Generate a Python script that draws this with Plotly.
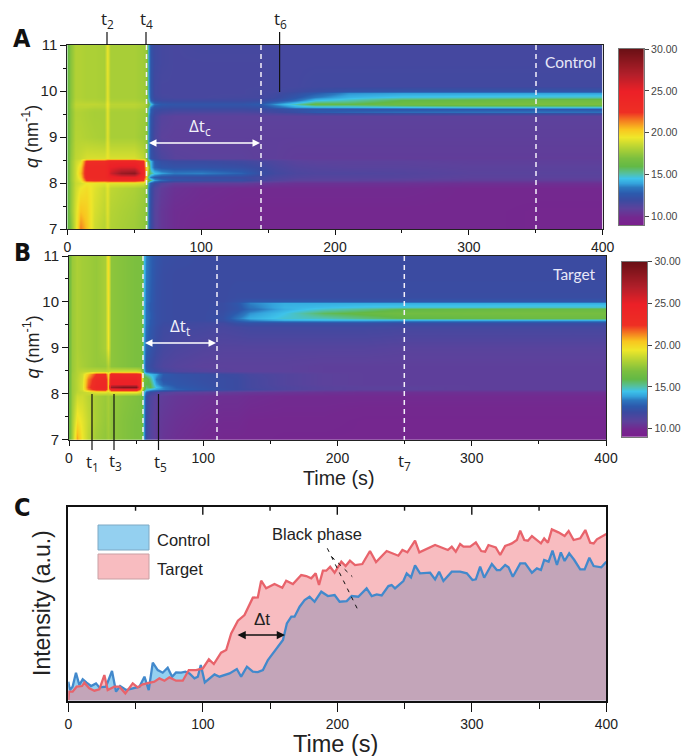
import numpy as np
import plotly.graph_objects as go

W, H = 684, 756

# ---------- colour scale ----------
Z_MIN, Z_MAX = 9.0, 30.0
color_levels = [9, 10, 11, 12, 12.8, 13.5, 14, 14.6, 15.2, 16, 17, 18.3, 19.5, 20.5, 21.5, 22.5, 25, 27, 30]
color_values = ["#7a1f8e", "#74288f", "#5c429c", "#3b4ba1", "#2c5aad", "#2c78bf", "#34a3dc", "#3ec3ea", "#55c0a0",
                "#63b946", "#7bbf3f", "#b5d334", "#efe72a", "#f9c51f", "#f47c20", "#ee2f24", "#ec2027", "#b21f2a", "#6b1015"]
bar_ticks = [10, 15, 20, 25, 30]
bar_tick_text = ["10.00", "15.00", "20.00", "25.00", "30.00"]

# ---------- panel A : Control ----------
time_a = [0, 2, 6, 10, 14, 20, 28, 30, 32, 40, 50, 57, 59, 60.5, 62, 65, 70, 80, 100, 130, 145, 155, 170, 185, 210, 250, 300, 350, 400]
q_a = [7, 7.4, 7.9, 8.0, 8.06, 8.12, 8.22, 8.35, 8.47, 8.55, 9.0, 9.45, 9.52, 9.55, 9.6, 9.66, 9.72, 9.8, 9.87, 9.95, 10.0, 10.1, 10.6, 11]
z_a = [
 [16,17,19,21.5,20.5,18.8,18.3,19,18.2,18,17.8,17.5,17.2,13.5,12.2,11.2,10.6,10.2,10,10,10,10,10,10,10,10,10,9.9,9.9],
 [16,17.5,19,20.5,20.2,19,18.5,19.2,18.3,18.1,17.9,17.6,17.3,13.5,12.2,11.2,10.6,10.2,10.1,10,10,10,10,10,10,10,10,9.9,9.9],
 [16,17.5,18.8,19.5,19.8,19.2,18.7,19.3,18.5,18.3,18.1,17.8,17.4,13.6,12.3,11.4,10.8,10.4,10.2,10.1,10.1,10.1,10.1,10.1,10.1,10.1,10,10,10],
 [16,17.5,18.7,19,19.5,19.4,19.2,19.6,19.2,19.2,19.2,19,18,14,12.8,12,11.3,10.8,10.8,10.8,10.6,10.5,10.4,10.4,10.4,10.4,10.3,10.3,10.3],
 [16,17.6,18.8,19.4,22.5,23,23,23,23.5,23.5,23.5,22.5,18.5,17,15.5,14,13.2,12.5,12.3,12.2,11.6,11.3,11,11,11,10.9,10.8,10.8,10.8],
 [16,17.6,18.8,20,23.5,23.5,23.5,24,24.5,25,25,23.5,20,15,13.5,12.8,12.4,12.2,12.1,12,11.7,11.5,11.3,11.2,11.2,11.2,11,11,11],
 [16,17.6,18.8,20.5,23.5,23.5,23.5,24,26,28,28.5,24,20,17,15.5,14.6,14,13.5,13.6,13,12.2,11.8,11.5,11.4,11.4,11.3,11.1,11.1,11.1],
 [16,17.6,18.8,20,23.5,23.5,23.5,24,25,25.5,25.5,23.5,19.5,18,14.5,13,12.6,12.4,12.4,12.2,11.9,11.6,11.3,11.2,11.1,11.1,11,11,11],
 [16,17.6,18.7,19.2,22.8,23,23,23.5,24,24,24,23,18.5,16,14.5,12.8,12.2,12,12,11.8,11.6,11.4,11.1,11,11,11,10.9,10.9,10.9],
 [16,17.5,18.5,18.7,19,19,19,19.4,19,19,19,18.5,17.5,14,12.5,12,11.5,11.1,11,11,10.9,10.9,10.8,10.8,10.8,10.8,10.8,10.8,10.8],
 [16,17.3,18.3,18.3,18.2,18.1,18,19.2,18,18,18,17.7,17.5,14,12.5,11.6,11,10.9,10.9,10.9,10.9,10.9,10.9,10.9,10.9,10.9,10.9,10.9,10.9],
 [16,17.3,18.2,18.2,18.1,18,18,19.3,18,18,18,17.8,17.6,14.2,12.6,11.8,11.2,11,11,11,11,11,11,11,11,11,11,11,11],
 [16,17.3,18.2,18.2,18.1,18,18,19.3,18,18,18,17.8,17.6,14.5,12.8,12,11.6,11.4,11.3,11.3,11.4,11.5,11.7,11.9,12,12.1,12.2,12.2,12.2],
 [16,17.3,18.2,18.2,18.1,18,18,19.3,18,18,18,17.8,17.6,14.6,12.9,12,11.7,11.5,11.5,11.5,11.6,11.8,12.2,12.8,13,13.2,13.3,13.4,13.3],
 [16,17.3,18.3,18.3,18.2,18.1,18.1,19.3,18.1,18.1,18.1,17.9,17.6,14.8,13,12.2,12,11.9,11.9,11.9,12,12.1,12.4,12.6,12.6,12.6,12.7,12.7,12.7],
 [16,17.4,18.4,18.4,18.4,18.3,18.3,19.4,18.3,18.3,18.3,18.1,17.8,15.5,13.5,12.5,12.3,12.2,12.2,12.2,12.3,13,14,14.3,14.4,14.6,14.8,14.8,14.8],
 [16,17.4,18.5,18.5,18.5,18.5,18.4,19.5,18.4,18.4,18.4,18.2,18,16.5,14.8,13.2,12.7,12.5,12.5,12.5,12.8,13.8,15,16.2,16,16.5,16.8,17,17],
 [16,17.3,18.3,18.3,18.2,18.2,18.1,19.3,18.1,18.1,18.1,17.9,17.6,15,13,12.1,11.9,11.9,11.9,11.9,12,12.3,13.2,14.5,15,16,16.2,16.5,16.5],
 [16,17.3,18.2,18.2,18.1,18.1,18,19.3,18,18,18,17.8,17.6,14.5,12.7,11.9,11.7,11.6,11.6,11.7,11.7,11.9,12.6,13.5,14.3,14.7,14.8,14.9,15],
 [16,17.3,18.2,18.2,18.1,18.1,18,19.3,18,18,18,17.8,17.6,14.3,12.7,11.8,11.6,11.6,11.6,11.6,11.7,11.8,12.2,12.8,13.8,14,14,14,14],
 [16,17.3,18.2,18.2,18.1,18.1,18,19.3,18,18,18,17.8,17.6,14.3,12.7,11.8,11.6,11.6,11.6,11.6,11.7,11.7,11.9,12.1,12.4,12.5,12.5,12.5,12.5],
 [16,17.3,18.2,18.2,18.1,18.1,18,19.3,18,18,18,17.8,17.6,14.2,12.6,11.8,11.6,11.6,11.6,11.6,11.6,11.7,11.7,11.8,11.8,11.8,11.8,11.8,11.8],
 [16,17.3,18.2,18.2,18.1,18.1,18,19.4,18,18,18,17.8,17.6,14.2,12.6,11.9,11.7,11.6,11.6,11.6,11.6,11.7,11.7,11.7,11.7,11.7,11.7,11.7,11.7],
 [16,17.3,18.2,18.2,18.1,18.1,18,19.4,18,18,18,17.8,17.6,14.2,12.5,11.9,11.7,11.6,11.7,11.7,11.7,11.7,11.7,11.7,11.7,11.7,11.7,11.7,11.7],
]

# ---------- panel B : Target ----------
time_b = [0, 2, 6, 10, 14, 20, 27, 29, 31, 40, 50, 53, 54.5, 55.5, 57, 60, 65, 70, 80, 100, 115, 125, 135, 160, 190, 220, 250, 300, 350, 400]
q_b = [7, 7.4, 7.95, 8.03, 8.1, 8.15, 8.22, 8.32, 8.44, 8.5, 8.6, 9, 9.45, 9.55, 9.6, 9.66, 9.75, 9.85, 9.9, 9.97, 10.02, 10.1, 10.6, 11]
z_b = [
 [16.5,18,21,19.5,18.5,17.8,17.5,17.8,17.5,17.2,17,17,16.5,13.8,12,11.3,10.8,10.5,10.3,10.1,10,10,10,9.9,9.9,9.9,9.9,9.9,9.9,9.9],
 [16.5,18,19.8,19.3,18.6,18,17.6,17.9,17.5,17.2,17,17,16.5,13.8,12,11.3,10.8,10.6,10.4,10.2,10.1,10.1,10,10,10,9.9,9.9,9.9,9.9,9.9],
 [16.5,17.8,18.8,18.8,18.4,18,17.7,18,17.6,17.3,17.1,17,16.5,13.9,12.2,11.5,11,10.8,10.6,10.4,10.3,10.3,10.2,10.1,10.1,10.1,10.1,10.1,10.1,10.1],
 [16.5,17.8,18.5,18.6,18.8,19.2,19.3,19,19.6,19.5,19.5,19,17.5,14.5,13,12,11.6,11.3,11,10.9,10.8,10.7,10.6,10.5,10.4,10.3,10.3,10.3,10.3,10.3],
 [16.5,17.8,18.4,19,21.5,23.3,23.5,20.5,24,24.5,24.5,22,19,16,15,14.6,14,13.6,13,12.5,12.2,12,11.8,11.4,11.1,11,11,10.9,10.9,10.9],
 [16.5,17.8,18.4,19,22,23.8,24,20.5,28,29,29,23.5,19.5,16.5,15.5,16,14.6,13.6,12.8,12.4,12.1,12,11.7,11.4,11.1,11,11,10.9,10.9,10.9],
 [16.5,17.8,18.4,19,21.8,23.5,23.8,20.5,25,25,25,23.5,19.5,16.5,16,16,14,13,12.6,12.3,12.1,12,11.7,11.3,11,10.9,10.9,10.9,10.9,10.9],
 [16.5,17.8,18.4,18.9,21.5,23.3,23.5,20.5,24.5,24.5,24.5,23.5,19.8,16.5,16.5,15.5,13.5,12.6,12.5,12.2,12.1,12,11.7,11.3,11,10.9,10.9,10.9,10.9,10.9],
 [16.5,17.8,18.3,18.8,20.5,22.5,22.8,20,23.8,23.5,23.5,23,20,15.5,15,14.5,14,12.8,12.4,12.2,12,11.9,11.6,11.3,11,10.9,10.9,10.9,10.9,10.9],
 [16.5,17.7,18.3,18.4,18.4,18.5,18.4,18.5,18.8,18.8,18.8,18.5,17,14.2,13,12.4,12,11.7,11.4,11.2,11.1,11,11,11,10.9,10.9,10.9,10.9,10.9,10.9],
 [16.5,17.7,18.2,18,17.8,17.6,17.6,18.2,17.4,17.2,17,17,16.5,13.9,12.6,12.1,11.7,11.4,11.2,11,11,11,11,11,10.9,10.9,10.9,10.9,10.9,10.9],
 [16.5,17.7,18.1,17.9,17.8,17.6,18,19.4,17.4,17.2,17,17,16.5,14,13,12.5,12,11.7,11.5,11.3,11.2,11.2,11.2,11.2,11.2,11.2,11.1,11.1,11.1,11.1],
 [16.5,17.7,18.1,17.9,17.8,17.6,18,19.6,17.4,17.2,17,17,16.6,14.2,13.2,12.7,12.2,11.9,11.8,11.7,11.6,11.7,11.8,11.8,11.8,11.8,11.7,11.7,11.7,11.7],
 [16.5,17.7,18.1,17.9,17.8,17.6,18,19.6,17.4,17.2,17,17,16.6,14.3,13.3,12.8,12.3,12,11.9,11.8,11.8,12.2,12.3,12.2,12.2,12.2,12.1,12.1,12.1,12.1],
 [16.5,17.7,18.1,17.9,17.8,17.6,18,19.6,17.4,17.2,17,17,16.6,14.3,13.3,12.8,12.3,12.1,12,12,12.2,13,13.6,14.2,14.3,14.3,14.2,14.2,14.2,14.2],
 [16.5,17.7,18.1,17.9,17.8,17.6,18,19.6,17.4,17.2,17,17,16.6,14.3,13.3,12.9,12.3,12.1,12,12,12.3,13.4,14.2,14.8,15,15.5,16,16.2,16.4,16.4],
 [16.5,17.7,18.1,17.9,17.8,17.6,18,19.6,17.4,17.2,17,17,16.6,14.3,13.3,12.9,12.3,12.1,12,12,12.2,12.9,13.8,14.6,15.8,16.2,16.6,16.7,16.8,16.8],
 [16.5,17.7,18.1,17.9,17.8,17.6,18,19.6,17.4,17.2,17,17,16.6,14.3,13.3,12.8,12.3,12.1,12,12,12.1,12.5,13.2,14.2,14.9,15.4,16,16.2,16.3,16.3],
 [16.5,17.7,18.1,17.9,17.8,17.6,18,19.6,17.4,17.2,17,17,16.6,14.3,13.3,12.8,12.3,12.1,12,12,12.1,12.5,13.4,14.3,14.5,14.7,14.8,14.8,14.9,14.9],
 [16.5,17.7,18.1,17.9,17.8,17.6,18,19.7,17.4,17.2,17,17,16.6,14.3,13.3,12.8,12.3,12.1,12,12,12.1,12.6,13.6,14.2,14.2,14.2,14.2,14.2,14.2,14.2],
 [16.5,17.7,18.1,17.9,17.8,17.6,18,19.7,17.4,17.2,17,17,16.6,14.3,13.4,12.9,12.3,12.1,12,12,12,12.3,12.6,12.6,12.6,12.5,12.5,12.5,12.5,12.5],
 [16.5,17.7,18.1,17.9,17.8,17.6,18,19.7,17.4,17.2,17,17,16.6,14.3,13.4,12.9,12.3,12.1,12,12,12,12.1,12.1,12.1,12.1,12.1,12.1,12.1,12.1,12.1],
 [16.5,17.7,18.1,17.9,17.8,17.6,18,19.8,17.4,17.2,17,17,16.6,14.4,13.5,13,12.4,12.1,12,12,12,12,12,12,12,12,12,12,12,12],
 [16.5,17.7,18.1,17.9,17.8,17.6,18,19.8,17.4,17.2,17,17,16.6,14.4,13.6,13,12.5,12.2,12.1,12,12,12,12,12,12,12,12,12,12,12],
]

# ---------- panel C : intensity traces (arbitrary units) ----------
control_time = [0,1.2,3.2,5.7,8.2,10.7,13.6,16.9,20.6,23.1,28,32.5,35.5,38.5,43,47.9,52.9,56.6,59.8,62.8,66.5,70.2,73.9,77.2,80.1,83.9,87.1,90.1,93.8,96.3,98.5,101.5,105,108.7,112.4,116.1,119.9,125.3,128.5,132.8,137.2,140.9,144.7,148.4,152.1,155.8,159.6,162.5,165.8,168.2,172,175.7,179.4,183.1,188.1,193,198,201.7,
                207,210.7,215.6,221.8,225.6,229.3,233,238,240.4,242.9,246.7,249.1,251.6,254.8,257.8,261.5,269,272.7,275.7,278.9,285.1,291.3,296.3,300.5,303,306.2,309.2,314.9,318.6,321.1,324.8,327.3,330.5,336,339.7,344.7,348.4,351.4,353.8,357.1,360,363.3,366.2,369,372.4,376.2,380.6,383.9,387.4,390.6,396.3,400]
control_intensity = [57,32,42,84,47,64,54,44,52,40,42,89,27,44,32,37,42,72,32,114,92,84,99,72,85,84,87,82,67,72,107,55,67,79,72,77,82,95,72,102,87,86,92,122,142,162,182,232,252,252,282,302,312,297,327,314,317,297,
                     299,314,312,337,314,319,316,344,347,337,352,359,382,370,406,382,384,364,387,359,387,387,382,362,364,402,369,410,392,392,407,400,372,412,412,384,397,392,422,417,450,407,445,419,442,422,394,394,429,404,400,417]
target_time = [0,0.5,3.2,6.2,10.2,11.9,15.6,19.4,23.1,26.8,29.3,34.2,38,42.4,47.9,51.6,55.3,64,67.7,71.5,75.2,80.1,85.1,89.6,95,100,104.5,108.2,113.6,117.4,121.1,126.1,131,137.2,140.9,143.4,147.1,153.3,159.1,162,167,173.2,176.9,180.6,183.9,186.4,189.3,191.8,194.7,198,203,
               206.2,209.4,213.2,218.6,224.3,228.8,236.7,245.4,248.4,252.1,257.8,261,272.7,282.2,285.1,288.1,291.3,293.8,298.8,303,307,309.9,312.4,317.8,321.1,324.8,329.8,333.5,336,339,341.7,344.7,351.4,353.8,356.6,359.5,364.4,369,372,375.7,380.6,384.4,388,390.6,393,400]
target_intensity = [2,27,27,42,44,54,37,30,34,77,32,42,42,22,52,40,49,57,67,60,70,60,60,92,92,97,124,110,144,152,202,240,257,309,310,360,337,350,339,360,350,377,374,367,382,347,390,390,402,384,417,
                    404,420,407,410,449,416,449,435,452,445,480,445,467,452,462,447,470,462,462,475,449,447,467,460,437,464,472,482,510,482,480,494,472,487,474,514,505,494,509,482,487,512,474,472,484,500]

tick_text = ["0", "100", "200", "300", "400"]
tick_vals = [0, 100, 200, 300, 400]


def px(x):
    return x / W


def py(y):
    return 1 - y / H


colorscale = [[(l - Z_MIN) / (Z_MAX - Z_MIN), c] for l, c in zip(color_levels, color_values)]
SANS = "Liberation Sans"
OPEN = "Open Sans"

fig = go.Figure()
fig.add_trace(go.Heatmap(x=time_a, y=q_a, z=z_a, xaxis="x", yaxis="y", zsmooth="best", zmin=Z_MIN, zmax=Z_MAX,
                         colorscale=colorscale, showscale=False, name="Control"))
fig.add_trace(go.Heatmap(x=time_b, y=q_b, z=z_b, xaxis="x2", yaxis="y2", zsmooth="best", zmin=Z_MIN, zmax=Z_MAX,
                         colorscale=colorscale, showscale=False, name="Target"))

# colour bars, drawn from the same colour levels
for xa, ya in [("x4", "y4"), ("x5", "y5")]:
    fig.add_trace(go.Heatmap(x=[0, 1], y=color_levels, z=[[l, l] for l in color_levels], xaxis=xa, yaxis=ya,
                             zsmooth="best", zmin=Z_MIN, zmax=Z_MAX, colorscale=colorscale, showscale=False,
                             hoverinfo="skip"))

fig.add_trace(go.Scatter(x=control_time, y=control_intensity, xaxis="x3", yaxis="y3", mode="lines", name="Control",
                         line=dict(width=0), fill="tozeroy", fillcolor="#94d0f0", showlegend=False))
fig.add_trace(go.Scatter(x=target_time, y=target_intensity, xaxis="x3", yaxis="y3", mode="lines", name="Target",
                         line=dict(width=0), fill="tozeroy", fillcolor="rgba(241,121,129,0.5)", showlegend=False))
fig.add_trace(go.Scatter(x=control_time, y=control_intensity, xaxis="x3", yaxis="y3", mode="lines", showlegend=False,
                         line=dict(color="#4289cc", width=2.3)))
fig.add_trace(go.Scatter(x=target_time, y=target_intensity, xaxis="x3", yaxis="y3", mode="lines", showlegend=False,
                         line=dict(color="#e8636b", width=2.3)))
# empty trace that carries the page-wide axes the notes are placed on
fig.add_trace(go.Scatter(x=[], y=[], xaxis="x6", yaxis="y6", mode="markers", showlegend=False, hoverinfo="skip"))


def x_axis(left, right, anchor, size=14, ticklen=5, width=1, color="#222222"):
    return dict(domain=[px(left), px(right)], range=[0, 400], anchor=anchor, tickvals=tick_vals, ticktext=tick_text,
                ticks="outside", ticklen=ticklen, tickwidth=1, tickcolor="#111111",
                minor=dict(tickvals=[50, 150, 250, 350], ticks="outside", ticklen=max(3, ticklen - 3), tickcolor="#111111"),
                showgrid=False, zeroline=False, showline=True, linecolor=color, linewidth=width, mirror=True,
                tickfont=dict(family=SANS, size=size, color="#222222"), tickangle=0, automargin=False)


def y_axis(top, bottom, anchor):
    return dict(domain=[py(bottom), py(top)], range=[7, 11], anchor=anchor, tickvals=[7, 8, 9, 10, 11],
                ticks="outside", ticklen=6, tickwidth=1, tickcolor="#111111",
                minor=dict(tickvals=[7.5, 8.5, 9.5, 10.5], ticks="outside", ticklen=3, tickcolor="#111111"),
                showgrid=False, zeroline=False, showline=True, linecolor="#222222", linewidth=1, mirror=True,
                tickfont=dict(family=SANS, size=15, color="#222222"), automargin=False)


def bar_x(left, right, anchor):
    return dict(domain=[px(left), px(right)], range=[0, 1], anchor=anchor, showticklabels=False, ticks="",
                showgrid=False, zeroline=False, showline=True, linecolor="#777777", linewidth=1, mirror=True)


def bar_y(top, bottom, anchor):
    return dict(domain=[py(bottom), py(top)], range=[Z_MIN, Z_MAX], anchor=anchor, side="right",
                tickvals=bar_ticks, ticktext=bar_tick_text, ticks="outside", ticklen=4, tickwidth=1, tickcolor="#444444",
                tickfont=dict(family=SANS, size=10.5, color="#444444"), automargin=False,
                showgrid=False, zeroline=False, showline=True, linecolor="#777777", linewidth=1, mirror=True)


shapes = []
annotations = []


def vline_px(x, y0, y1, color="#111111", width=1.2, dash="solid"):
    shapes.append(dict(type="line", xref="paper", yref="paper", x0=px(x), x1=px(x), y0=py(y0), y1=py(y1),
                       line=dict(color=color, width=width, dash=dash), layer="above"))


def label(x, y, text, size=17, color="#222222", family=OPEN, angle=0, bold=False, anchor="center"):
    annotations.append(dict(xref="x6", yref="y6", x=x, y=y, text=f"<b>{text}</b>" if bold else text,
                            showarrow=False, textangle=angle, xanchor=anchor, yanchor="middle",
                            font=dict(family=family, size=size, color=color)))


def double_arrow(x0, x1, y, color, width=1.5, size=1.0):
    annotations.append(dict(xref="x6", yref="y6", axref="x6", ayref="y6", x=x1, y=y, ax=x0, ay=y,
                            text="", showarrow=True, arrowhead=2, arrowside="end+start", arrowsize=size,
                            arrowwidth=width, arrowcolor=color, standoff=0, startstandoff=0))


# dashed white markers
DASH = "5px,4px"
for x, top, bottom in [(146.5, 45, 229), (261, 45, 229), (536, 45, 229), (143, 256, 440), (217, 256, 440), (404.3, 256, 440)]:
    vline_px(x, top, bottom, color="#f4f0fa", width=1.5, dash=DASH)

# black marker lines
for x, y0, y1 in [(107, 32, 45), (146, 32, 45), (279.6, 32, 92), (92, 394, 450), (114, 394, 450), (158.5, 394, 450)]:
    vline_px(x, y0, y1)

# upper-panel labels
for x, y, t in [(107, 19, "t<sub>2</sub>"), (146, 19, "t<sub>4</sub>"), (280, 19, "t<sub>6</sub>"),
                (92, 462, "t<sub>1</sub>"), (115, 461, "t<sub>3</sub>"), (160, 462, "t<sub>5</sub>"), (404, 461, "t<sub>7</sub>")]:
    label(x, y, t, size=17)

label(200, 126, "Δt<sub>c</sub>", size=17, color="#f2f2fa")
label(180, 326, "Δt<sub>t</sub>", size=17, color="#f2f2fa")
label(570, 62, "Control", size=15.5, color="#e8e8f8", family="Lato")
label(574, 274, "Target", size=15.5, color="#e8e8f8", family="Lato")
double_arrow(147.5, 260, 143, "#ffffff")
double_arrow(143.5, 216, 343, "#ffffff")

# axis titles
label(30, 137, "<i>q</i> (nm<sup>-1</sup>)", size=18, family=SANS, angle=-90)
label(32, 347.5, "<i>q</i> (nm<sup>-1</sup>)", size=18, family=SANS, angle=-90)
label(338, 478, "Time (s)", size=19.7, family=SANS)
label(335, 744, "Time (s)", size=23.5, family=SANS)
label(42, 603, "Intensity (a.u.)", size=23, family=SANS, angle=-90)

# panel letters
for y, t in [(38, "A"), (252, "B"), (507, "C")]:
    label(22, y, t, size=25, color="#111111", family="DejaVu Sans Condensed, Liberation Sans", bold=True)

# panel C legend
for y0, y1, fill, edge in [(525, 550, "#94d0f0", "#7fa9c4"), (554, 579, "#f8bcc0", "#c9a0a4")]:
    shapes.append(dict(type="rect", xref="paper", yref="paper", x0=px(98), x1=px(149), y0=py(y0), y1=py(y1),
                       fillcolor=fill, line=dict(color=edge, width=1), layer="above"))
label(155, 540, "Control", size=16.5, family=SANS, anchor="left")
label(155, 569, "Target", size=16.5, family=SANS, anchor="left")

# panel C notes
label(317, 534, "Black phase", size=16.5, family=SANS)
label(261.5, 619, "Δt", size=17, family=SANS)
double_arrow(236, 285, 635, "#111111", width=1.5, size=1.1)
for x0, y0, x1, y1 in [(327.3, 548.3, 358.3, 610.7), (331.7, 556.7, 352.3, 576.7)]:
    shapes.append(dict(type="line", xref="paper", yref="paper", x0=px(x0), y0=py(y0), x1=px(x1), y1=py(y1),
                       line=dict(color="#111111", width=1, dash="4px,5px"), layer="above"))

# inward ticks on the top of panel C
for t, length in [(0, 0), (50, 4), (100, 8), (150, 4), (200, 8), (250, 4), (300, 8), (350, 4), (400, 0)]:
    if length:
        shapes.append(dict(type="line", xref="x3", yref="paper", x0=t, x1=t, y0=py(506.7), y1=py(506.7 + length),
                           line=dict(color="#111111", width=1.4), layer="above"))

fig.update_layout(
    width=W, height=H, autosize=False, margin=dict(l=0, r=0, t=0, b=0, pad=0, autoexpand=False), paper_bgcolor="white",
    plot_bgcolor="rgba(0,0,0,0)", showlegend=False,
    xaxis=x_axis(67.3, 602.7, "y"),
    yaxis=y_axis(45, 229, "x"),
    xaxis2=x_axis(69, 606, "y2"),
    yaxis2=y_axis(256, 439.7, "x2"),
    xaxis3=dict(x_axis(68.3, 606.3, "y3", size=14, ticklen=9, width=2, color="#111111"), mirror=True),
    yaxis3=dict(domain=[py(700.7), py(506.7)], range=[0, 582], anchor="x3", showticklabels=False, ticks="",
                showgrid=False, zeroline=False, showline=True, linecolor="#111111", linewidth=2, mirror=True),
    xaxis4=bar_x(618.7, 644, "y4"),
    yaxis4=bar_y(49, 225, "x4"),
    xaxis5=bar_x(622, 647.3, "y5"),
    yaxis5=bar_y(261.7, 437, "x5"),
    xaxis6=dict(domain=[0, 1], range=[0, W], anchor="y6", visible=False),
    yaxis6=dict(domain=[0, 1], range=[H, 0], anchor="x6", visible=False),
    shapes=shapes, annotations=annotations,
)

# the page's default 8px body margin would push the figure out of the 684x756 window
fig.write_html("out.html", config=dict(displayModeBar=False),
               post_script="document.body.style.margin='0';document.documentElement.style.overflow='hidden';")
